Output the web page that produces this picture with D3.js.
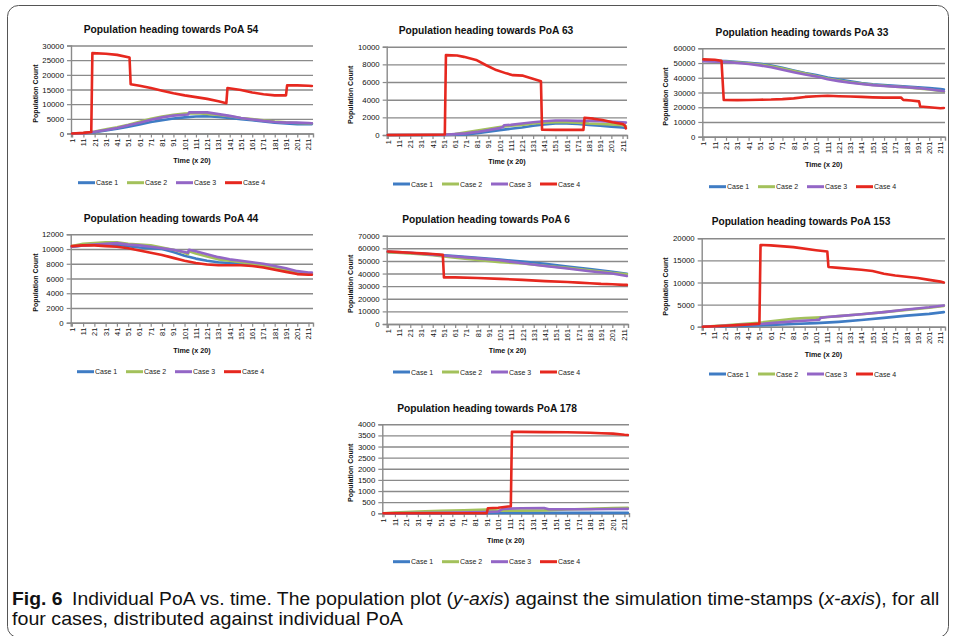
<!DOCTYPE html>
<html><head><meta charset="utf-8">
<script src="https://cdn.jsdelivr.net/npm/d3@7"></script>
<style>body{margin:0;background:#fff}svg{display:block}</style>
</head><body>
<svg id="c" width="956" height="636"></svg>
<script>
// ---------- DATA ----------
const timeTicks = [1,11,21,31,41,51,61,71,81,91,101,111,121,131,141,151,161,171,181,191,201,211];
const caseNames = ["Case 1","Case 2","Case 3","Case 4"];
const poaIds = ["54","63","33","44","6","153","178"];

const yTicks54  = [0,5000,10000,15000,20000,25000,30000];
const yTicks63  = [0,2000,4000,6000,8000,10000];
const yTicks33  = [0,10000,20000,30000,40000,50000,60000];
const yTicks44  = [0,2000,4000,6000,8000,10000,12000];
const yTicks6   = [0,10000,20000,30000,40000,50000,60000,70000];
const yTicks153 = [0,5000,10000,15000,20000];
const yTicks178 = [0,500,1000,1500,2000,2500,3000,3500,4000];

// each series: [time, population]
const poa54 = [
 [[1,0],[11,100],[21,450],[31,1000],[41,1600],[51,2300],[61,3100],[71,3900],[81,4500],[91,5100],[101,5500],[111,5800],[121,5900],[131,5600],[141,5300],[151,4900],[161,4500],[171,4100],[181,3700],[191,3400],[201,3200],[211,3200],[214,3200]],
 [[1,0],[11,150],[21,700],[31,1400],[41,2100],[51,3000],[61,4000],[71,5000],[81,5800],[91,6400],[101,6800],[111,6900],[121,6700],[131,6300],[141,5900],[151,5300],[161,4900],[171,4500],[181,4100],[191,3800],[201,3600],[211,3500],[214,3500]],
 [[1,0],[11,100],[21,600],[31,1200],[41,1900],[51,2800],[61,3700],[71,4700],[81,5500],[91,6100],[101,6400],[104,6500],[105,7200],[121,7200],[131,6600],[141,6000],[151,5300],[161,4800],[171,4300],[181,3900],[191,3700],[201,3700],[211,3600],[214,3500]],
 [[1,0],[11,200],[18,500],[19,27400],[31,27200],[41,26800],[52,25900],[53,16800],[61,16300],[71,15500],[81,14600],[91,13700],[101,13000],[111,12400],[121,11800],[131,11000],[138,10300],[139,15500],[151,14800],[161,14000],[171,13400],[181,13000],[191,13000],[192,16400],[201,16400],[211,16300],[214,16200]]
];
const poa63 = [
 [[1,0],[51,0],[61,20],[71,60],[81,200],[91,380],[101,550],[111,700],[121,850],[131,1050],[141,1200],[151,1300],[161,1300],[171,1250],[181,1150],[191,1050],[201,950],[211,850],[214,800]],
 [[1,0],[51,20],[61,120],[71,300],[81,500],[91,700],[101,900],[111,1050],[121,1150],[131,1300],[141,1400],[151,1450],[161,1450],[171,1400],[181,1300],[191,1250],[201,1200],[211,1100],[214,1000]],
 [[1,0],[51,30],[61,100],[71,180],[81,350],[91,550],[101,780],[104,900],[105,1100],[111,1150],[121,1300],[131,1450],[141,1550],[151,1650],[161,1650],[171,1600],[181,1600],[191,1550],[201,1500],[211,1450],[214,1400]],
 [[1,0],[41,30],[52,60],[53,9050],[63,9000],[69,8850],[80,8500],[89,7900],[98,7350],[107,6980],[113,6780],[122,6720],[130,6400],[138,6100],[139,600],[151,580],[161,580],[176,580],[177,1950],[185,1850],[193,1700],[202,1450],[211,1250],[213,1100],[214,750]]
];
const poa33 = [
 [[1,51500],[21,51300],[41,50200],[51,49500],[61,48300],[71,46800],[81,45000],[91,43300],[101,41800],[111,40200],[121,38800],[131,37600],[141,36500],[151,35600],[161,35000],[171,34500],[181,34000],[191,33500],[201,33000],[211,32300],[214,32000]],
 [[1,51500],[21,51000],[41,49800],[51,49000],[61,47800],[71,46300],[81,44500],[91,42800],[101,41200],[111,39500],[121,38200],[131,37000],[141,36000],[151,35200],[161,34600],[171,34000],[181,33500],[191,32800],[201,32000],[211,31000],[214,30500]],
 [[1,51200],[21,50800],[41,49300],[51,48400],[61,47100],[71,45500],[81,43800],[91,42200],[101,40800],[111,39000],[121,37700],[131,36600],[141,35800],[151,35000],[161,34400],[171,34000],[181,33600],[191,33000],[201,32200],[211,31200],[214,30800]],
 [[1,52500],[11,52200],[17,51500],[19,25000],[31,24800],[41,24900],[51,25100],[61,25200],[71,25500],[81,26000],[91,27000],[101,27500],[111,27800],[121,27500],[131,27300],[141,27000],[151,26700],[161,26500],[176,26600],[178,25000],[185,24600],[192,24000],[193,20500],[201,20000],[211,19300],[214,19500]]
];
const poa44 = [
 [[1,10300],[11,10500],[21,10600],[31,10600],[41,10600],[51,10400],[61,10200],[71,10100],[81,10000],[91,9600],[101,9100],[111,8700],[121,8400],[131,8200],[141,8100],[151,8000],[161,7900],[171,7700],[181,7400],[191,7100],[201,6800],[211,6600],[214,6600]],
 [[1,10400],[11,10700],[21,10800],[31,10900],[41,10900],[51,10700],[61,10600],[71,10500],[81,10200],[91,9900],[101,9500],[104,9300],[105,9700],[111,9400],[121,9000],[131,8600],[141,8400],[151,8200],[161,8000],[171,7800],[181,7500],[191,7200],[201,6900],[211,6700],[214,6700]],
 [[1,10300],[11,10500],[21,10600],[31,10700],[41,10800],[51,10600],[61,10500],[71,10300],[81,10100],[91,9900],[101,9600],[104,9500],[105,9900],[111,9700],[121,9300],[131,8900],[141,8600],[151,8400],[161,8200],[171,8000],[181,7700],[191,7400],[201,7000],[211,6800],[214,6800]],
 [[1,10400],[11,10500],[21,10500],[31,10400],[41,10300],[51,10100],[61,9800],[71,9500],[81,9200],[91,8800],[101,8400],[111,8100],[121,7900],[131,7800],[141,7800],[151,7800],[161,7700],[171,7500],[181,7200],[191,6900],[201,6600],[211,6500],[214,6500]]
];
const poa6 = [
 [[1,57000],[21,56300],[41,55300],[51,54500],[61,53800],[81,52500],[101,51000],[121,49500],[141,47800],[161,45500],[181,43500],[201,41300],[214,39800]],
 [[1,57000],[21,56000],[41,54500],[61,52500],[81,50800],[101,49000],[121,48000],[141,46200],[161,44500],[181,42500],[201,40500],[214,39500]],
 [[1,57500],[21,56500],[41,55000],[61,53500],[81,52000],[101,50500],[121,48200],[141,46000],[161,44000],[181,41800],[201,40000],[214,38000]],
 [[1,57500],[11,57000],[21,56500],[31,56000],[41,55500],[50,54800],[51,37000],[61,37000],[81,36500],[101,35800],[121,35000],[141,34000],[161,33300],[171,32800],[181,32300],[191,31800],[201,31500],[211,31000],[214,31000]]
];
const poa153 = [
 [[1,0],[21,100],[41,200],[61,400],[81,600],[101,800],[121,1100],[141,1500],[161,2000],[181,2500],[201,2900],[214,3300]],
 [[1,0],[21,300],[41,700],[51,900],[61,1200],[71,1500],[81,1800],[91,1950],[101,2050],[111,2200],[121,2400],[141,2800],[161,3300],[181,3800],[201,4300],[214,4700]],
 [[1,0],[21,200],[41,500],[51,600],[61,800],[81,1200],[101,1500],[104,1600],[105,2000],[111,2200],[121,2400],[141,2800],[161,3300],[181,3900],[201,4400],[214,4800]],
 [[1,0],[11,100],[21,200],[31,350],[41,500],[51,700],[52,18500],[61,18400],[81,18000],[101,17300],[111,17000],[112,13500],[121,13300],[141,12900],[151,12600],[161,12000],[171,11600],[181,11300],[191,11000],[201,10600],[211,10200],[214,10000]]
];
const poa178 = [
 [[1,0],[91,10],[101,20],[121,20],[214,20]],
 [[1,0],[11,30],[31,80],[51,110],[71,140],[91,170],[101,120],[121,120],[141,130],[161,170],[181,200],[201,240],[214,250]],
 [[1,0],[51,20],[91,60],[101,80],[105,200],[121,230],[141,240],[145,180],[161,180],[181,180],[201,190],[214,200]],
 [[1,0],[91,0],[92,225],[101,250],[112,320],[113,3660],[121,3660],[141,3650],[161,3640],[181,3620],[191,3600],[201,3580],[211,3530],[214,3520]]
];

// ---------- LAYOUT / STYLE ----------
const colors = ["#3f7cc4","#a3c15b","#9366c6","#e6281f"];
const panels = [
 {data:poa54,  ticks:yTicks54,  L:71,  R:313, T:45.5,  B:133.5, tx:171, ty:28.5,  tw:175, yl:35,  lx:78,  ly:182.7, my:160.7},
 {data:poa63,  ticks:yTicks63,  L:386.7,R:627, T:46.7,  B:135,   tx:486, ty:30,    tw:175, yl:350, lx:393, ly:184,   my:161},
 {data:poa33,  ticks:yTicks33,  L:702.3,R:945, T:48.3,  B:136.7, tx:802, ty:31.7,  tw:173, yl:665.7,lx:709,ly:186.7, my:164},
 {data:poa44,  ticks:yTicks44,  L:70.7, R:313, T:234.3, B:322.7, tx:171, ty:217.7, tw:175, yl:35,  lx:77,  ly:371.7, my:350},
 {data:poa6,   ticks:yTicks6,   L:386.7,R:628, T:235.7, B:324,   tx:486, ty:219,   tw:168, yl:350, lx:393, ly:372,   my:350.7},
 {data:poa153, ticks:yTicks153, L:701.7,R:945, T:238.3, B:326.7, tx:801, ty:221,   tw:179, yl:665.7,lx:709,ly:374,   my:354},
 {data:poa178, ticks:yTicks178, L:382.3,R:629, T:424.3, B:513.3, tx:487, ty:407.7, tw:180, yl:350.7,lx:393,ly:561.7, my:540}
];

const svg = d3.select("#c");
const FONT = "'Liberation Sans', Arial, sans-serif";

// outer frame
svg.append("rect").attr("x",7.5).attr("y",5.5).attr("width",941).attr("height",632)
  .attr("rx",11).attr("fill","none").attr("stroke","#555").attr("stroke-width",1);

function fitText(sel, target){
  const w = sel.node().getComputedTextLength();
  return w>0 ? target/w : 1;
}

panels.forEach((p,i)=>{
  const g = svg.append("g");
  const x = d3.scaleLinear().domain([0,215]).range([p.L,p.R]);
  const y = d3.scaleLinear().domain([0,d3.max(p.ticks)]).range([p.B,p.T]);

  // gridlines
  const yAxis = d3.axisLeft(y).tickValues(p.ticks).tickSize(-(p.R-p.L)).tickFormat("");
  const gy = g.append("g").attr("transform",`translate(${p.L},0)`).call(yAxis);
  gy.select(".domain").remove();
  gy.selectAll(".tick line").attr("stroke","#8a8a8a").attr("stroke-width",1.4);
  // y ticks (outer)
  const yAxis2 = d3.axisLeft(y).tickValues(p.ticks).tickSize(4).tickPadding(3).tickFormat(d3.format("d"));
  const gy2 = g.append("g").attr("transform",`translate(${p.L},0)`).call(yAxis2);
  gy2.select(".domain").attr("stroke","#8a8a8a").attr("stroke-width",1.4);
  gy2.selectAll(".tick line").attr("stroke","#8a8a8a").attr("stroke-width",1.2);
  gy2.selectAll(".tick text").attr("font-family",FONT).attr("font-size",7.8).attr("fill","#111");

  // x axis
  const xAxis = d3.axisBottom(x).tickValues(timeTicks).tickSize(4).tickFormat(d3.format("d"));
  const gx = g.append("g").attr("transform",`translate(0,${p.B})`).call(xAxis);
  gx.select(".domain").attr("stroke","#8a8a8a").attr("stroke-width",1.4);
  gx.selectAll(".tick line").attr("stroke","#8a8a8a").attr("stroke-width",1.2);
  gx.selectAll(".tick text").attr("font-family",FONT).attr("font-size",7.4).attr("fill","#111")
    .attr("text-anchor","end").attr("dy",null).attr("y",null)
    .attr("dominant-baseline","central")
    .attr("transform","translate(0,5) rotate(-90)");

  // lines
  const line = d3.line().x(d=>x(d[0])).y(d=>y(d[1]));
  p.data.forEach((s,k)=>{
    g.append("path").datum(s).attr("d",line).attr("fill","none")
      .attr("stroke",colors[k]).attr("stroke-width",2.6)
      .attr("stroke-linejoin","round").attr("stroke-linecap","round");
  });

  // title
  const t = g.append("text").text("Population heading towards PoA " + poaIds[i])
    .attr("font-family",FONT).attr("font-weight","bold").attr("font-size",11)
    .attr("text-anchor","middle").attr("dominant-baseline","central").attr("fill","#111");
  const s = fitText(t,p.tw);
  t.attr("transform",`translate(${p.tx},${p.ty}) scale(${s},1)`);

  // axis titles
  g.append("text").text("Time (x 20)").attr("x",(p.L+p.R)/2).attr("y",p.my)
    .attr("font-family",FONT).attr("font-weight","bold").attr("font-size",7.2)
    .attr("text-anchor","middle").attr("dominant-baseline","central").attr("fill","#111");
  g.append("text").text("Population Count")
    .attr("transform",`translate(${p.yl},${(p.T+p.B)/2+4}) rotate(-90)`)
    .attr("font-family",FONT).attr("font-weight","bold").attr("font-size",7)
    .attr("text-anchor","middle").attr("dominant-baseline","central").attr("fill","#111");

  // legend
  caseNames.forEach((n,k)=>{
    const lx = p.lx + k*49;
    g.append("line").attr("x1",lx).attr("x2",lx+17).attr("y1",p.ly).attr("y2",p.ly)
      .attr("stroke",colors[k]).attr("stroke-width",3);
    g.append("text").text(n).attr("x",lx+18).attr("y",p.ly)
      .attr("font-family",FONT).attr("font-size",7).attr("dominant-baseline","central").attr("fill","#222");
  });
});

// caption
const cap1 = svg.append("text").attr("font-family",FONT).attr("font-size",18.5).attr("fill","#111");
cap1.append("tspan").attr("font-weight","bold").text("Fig. 6");
cap1.append("tspan").text("\u2002Individual PoA vs. time. The population plot (");
cap1.append("tspan").attr("font-style","italic").text("y-axis");
cap1.append("tspan").text(") against the simulation time-stamps (");
cap1.append("tspan").attr("font-style","italic").text("x-axis");
cap1.append("tspan").text("), for all");
const s1 = fitText(cap1, 928);
cap1.attr("transform",`translate(12,605) scale(${s1},1)`);
const cap2 = svg.append("text").attr("font-family",FONT).attr("font-size",18.5).attr("fill","#111")
  .text("four cases, distributed against individual PoA");
const s2 = fitText(cap2, 391);
cap2.attr("transform",`translate(12,624.5) scale(${s2},1)`);
</script>
</body></html>
